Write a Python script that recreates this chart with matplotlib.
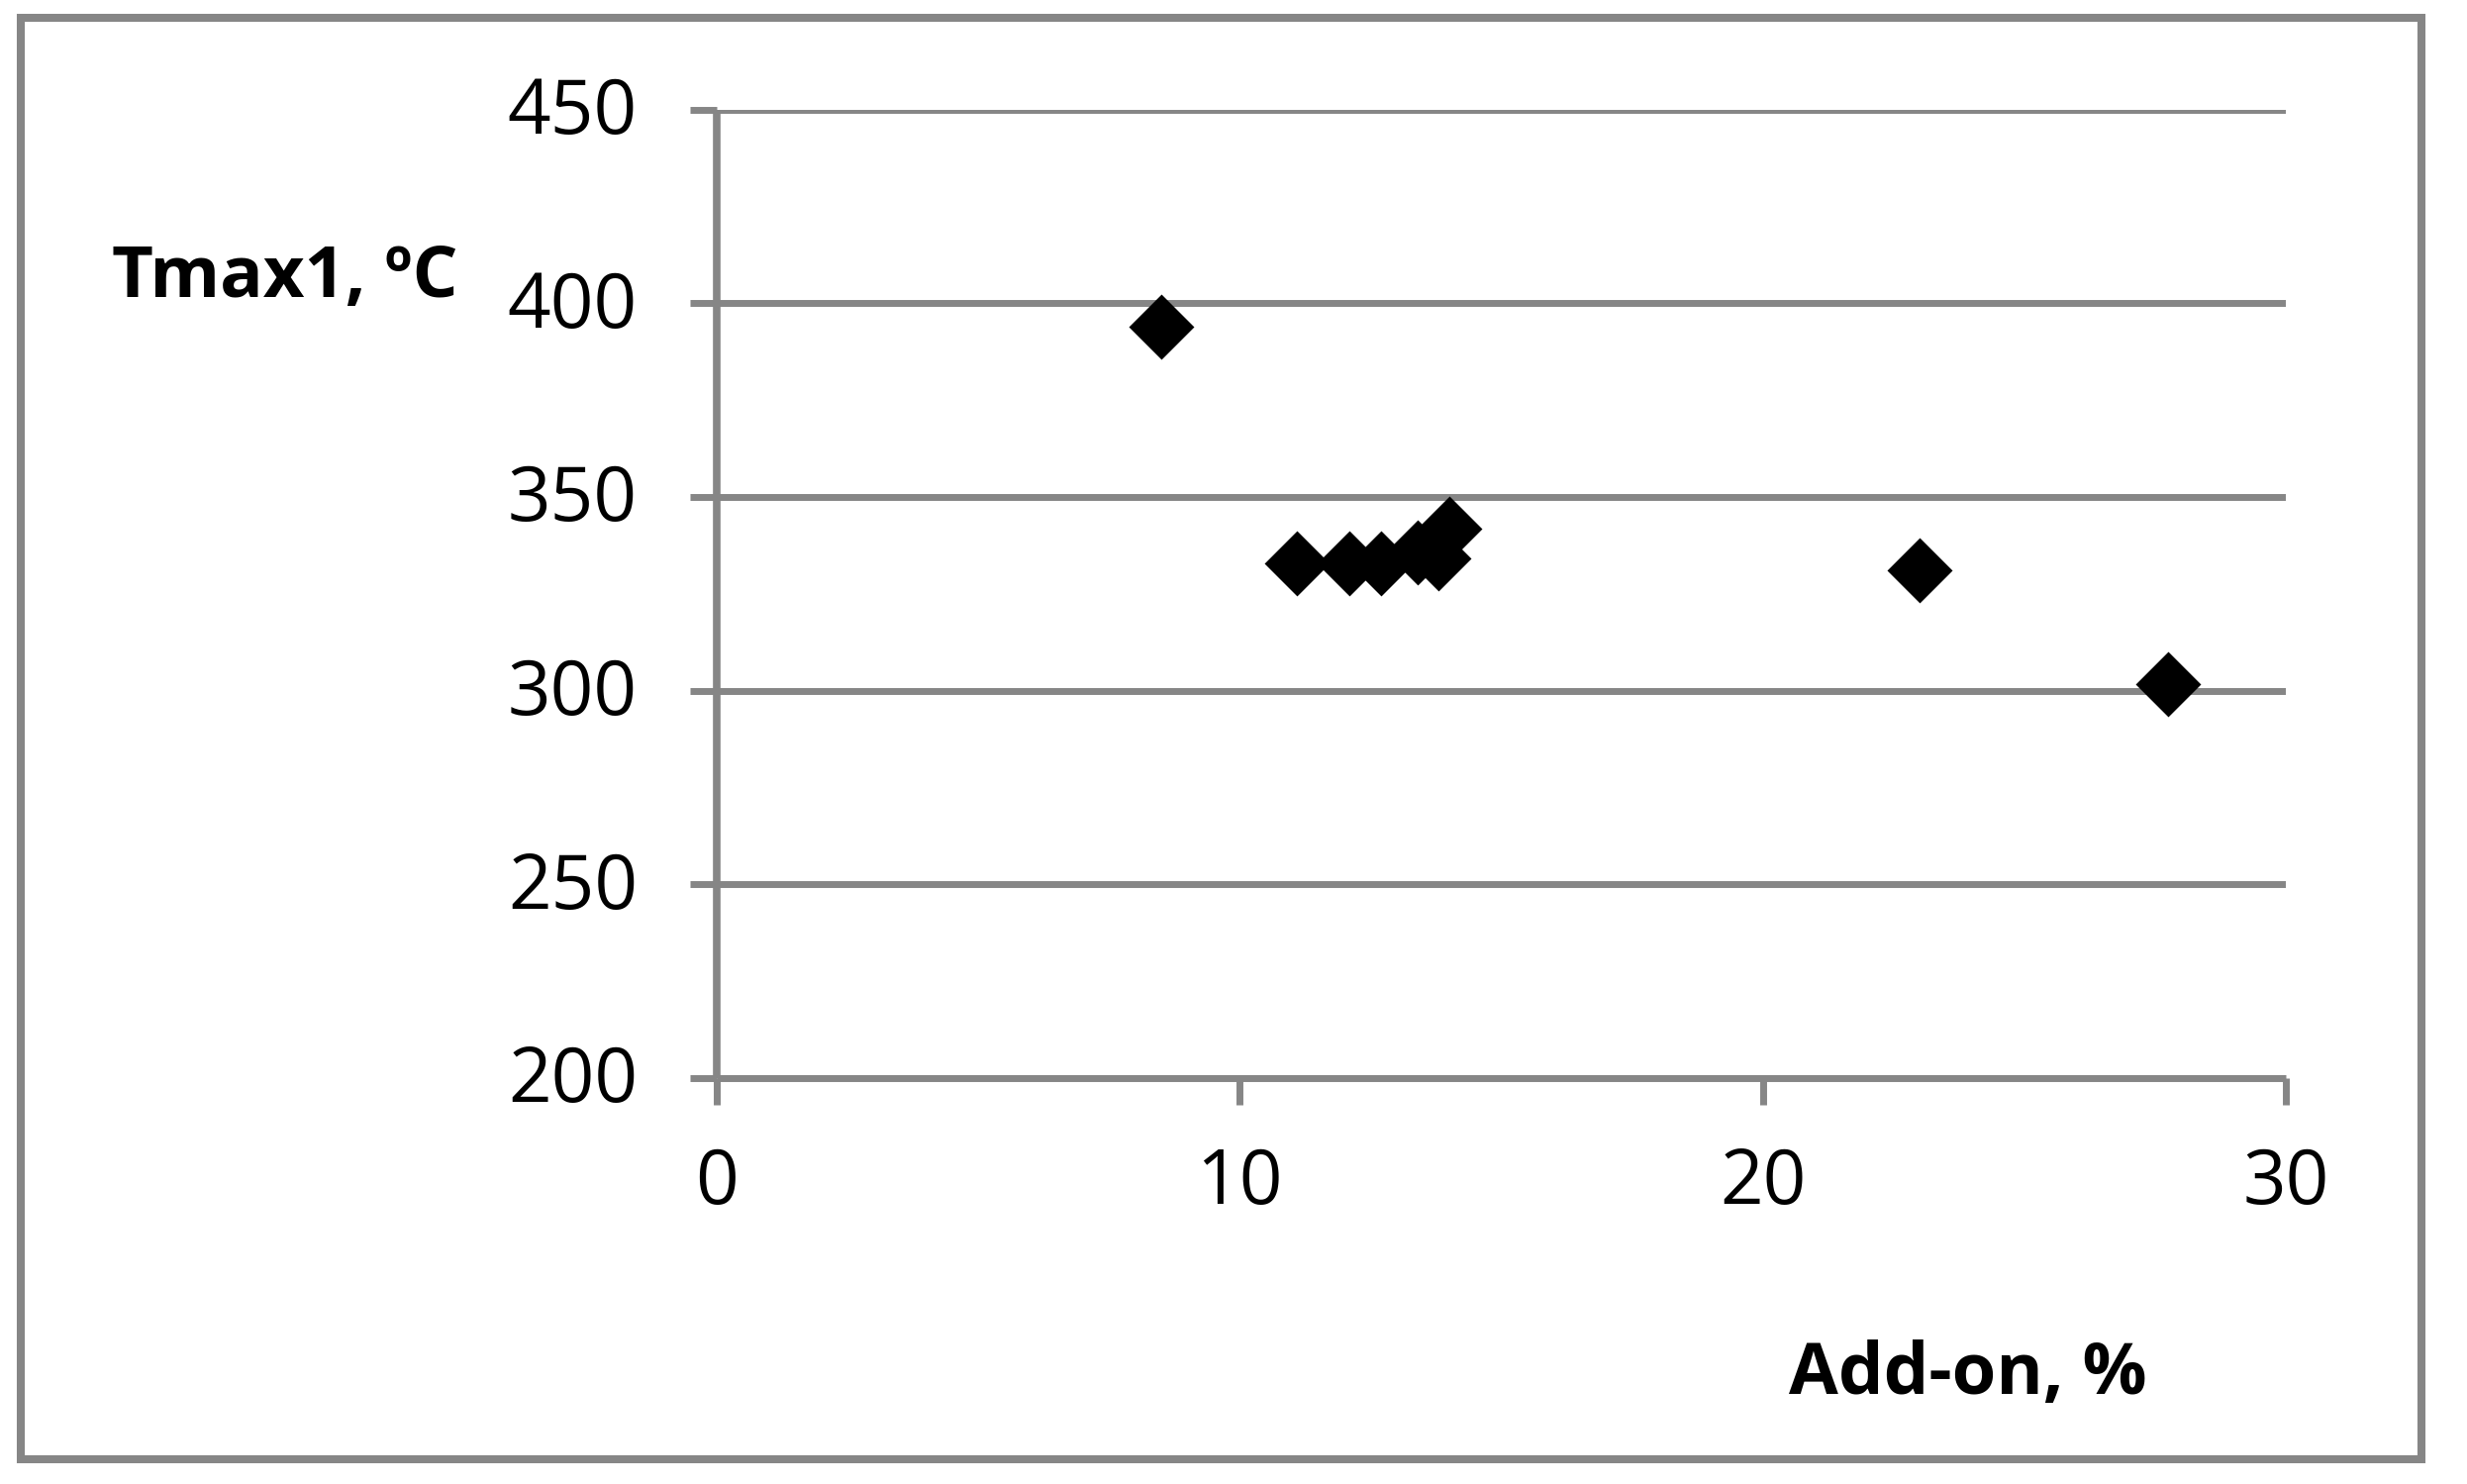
import matplotlib.pyplot as plt
import matplotlib.transforms as mtransforms
from matplotlib.patches import Rectangle

# Tmax1 against add-on
add_on = [8.5, 11.1, 12.1, 12.7, 13.4, 13.8, 14.0, 23.0, 27.75]
tmax1 = [393.9, 332.8, 332.8, 332.8, 335.8, 334.1, 341.9, 331.1, 301.8]

x_ticks = [0, 10, 20, 30]
y_ticks = [200, 250, 300, 350, 400, 450]

grey = '#868686'
plt.rcParams['font.family'] = ['Open Sans', 'DejaVu Sans']

fig = plt.figure(figsize=(24.92, 14.99), dpi=100)
ax = fig.add_axes([0.2905, 0.2735, 0.9266 - 0.2905, 0.9262 - 0.2735])

ax.set_xlim(0, 30)
ax.set_ylim(200, 450)
ax.set_xticks(x_ticks)
ax.set_yticks(y_ticks)
ax.yaxis.grid(True, color=grey, linewidth=5)
ax.set_axisbelow(True)

for side in ['top', 'right']:
    ax.spines[side].set_visible(False)
ax.spines['left'].set_color(grey)
ax.spines['left'].set_linewidth(5.5)
ax.spines['left'].set_capstyle('butt')
ax.spines['bottom'].set_color(grey)
ax.spines['bottom'].set_linewidth(5)
ax.spines['bottom'].set_capstyle('butt')

ax.tick_params(axis='both', direction='out', length=19.5, width=5,
               color=grey, labelsize=55)
ax.tick_params(axis='y', pad=38)
ax.tick_params(axis='x', pad=30)

# nudge y tick labels up a little so the digits sit on the grid lines
shift = mtransforms.ScaledTranslation(0, 5 / 100, fig.dpi_scale_trans)
for lab in ax.get_yticklabels():
    lab.set_transform(lab.get_transform() + shift)

ax.plot(add_on, tmax1, linestyle='none', marker='D', markersize=32,
        markerfacecolor='black', markeredgecolor='black',
        markeredgewidth=2, clip_on=False)

fig.text(0.0453, 0.7999, 'Tmax1, \u00baC', fontsize=52, fontweight='bold',
         ha='left', va='baseline')
fig.text(0.7251, 0.0607, 'Add-on, %', fontsize=52, fontweight='bold',
         ha='left', va='baseline')

# chart border
fig.patches.append(Rectangle((0.00843, 0.01668), 0.98154 - 0.00843,
                             0.988 - 0.01668, transform=fig.transFigure,
                             fill=False, edgecolor=grey, linewidth=5.8))

plt.savefig('out.png', dpi=100)
